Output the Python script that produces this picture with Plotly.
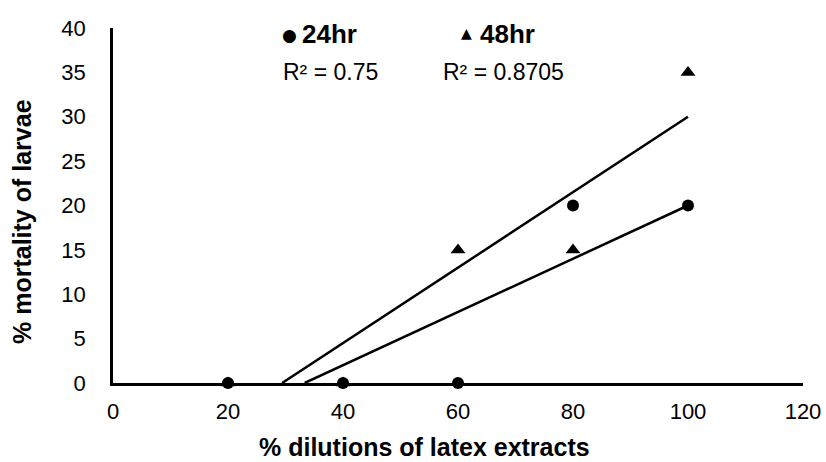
import numpy as np
import plotly.graph_objects as go

dilutions = [20, 40, 60, 80, 100]
mort_24hr = [0, 0, 0, 20, 20]
mort_48hr = [0, 0, 15, 15, 35]
series_names = ["24hr", "48hr"]
x_ticks = [0, 20, 40, 60, 80, 100, 120]
y_ticks = [0, 5, 10, 15, 20, 25, 30, 35, 40]
x_title = "% dilutions of latex extracts"
y_title = "% mortality of larvae"

FONT = "Liberation Sans, Arial, sans-serif"
W, H = 826, 462
L, R, T, B = 113, 23, 28, 79
PW, PH = W - L - R, H - T - B

def px(x):  # screen pixel x -> paper
    return (x - L) / PW

def py(y):  # screen pixel y -> paper
    return (H - B - y) / PH

fig = go.Figure()

def trend(x, y):
    x = np.array(x, float); y = np.array(y, float)
    m, b = np.polyfit(x, y, 1)
    pred = m * x + b
    r2 = 1 - ((y - pred) ** 2).sum() / ((y - y.mean()) ** 2).sum()
    x0 = max(x.min(), -b / m)
    xs = [x0, x.max()]
    ys = [m * v + b for v in xs]
    return xs, ys, r2

r2s = []
for ys_data in (mort_24hr, mort_48hr):
    tx, ty, r2 = trend(dilutions, ys_data)
    r2s.append(r2)
    fig.add_trace(go.Scatter(x=tx, y=ty, mode="lines",
                             line=dict(color="black", width=2.5), showlegend=False,
                             hoverinfo="skip"))

fig.add_trace(go.Scatter(x=dilutions, y=mort_24hr, mode="markers", name=series_names[0],
                         marker=dict(symbol="circle", size=12, color="black"),
                         cliponaxis=False, showlegend=False))
fig.add_trace(go.Scatter(x=dilutions, y=mort_48hr, mode="markers", name=series_names[1],
                         marker=dict(symbol="triangle-up", size=13, color="black"),
                         cliponaxis=False, showlegend=False))

leg_font = dict(family=FONT, size=26, color="black")
fig.add_annotation(xref="paper", yref="paper", x=px(289), y=py(35), text="●",
                   showarrow=False, xanchor="center", yanchor="middle",
                   font=dict(family="DejaVu Sans", size=17, color="black"))
fig.add_annotation(xref="paper", yref="paper", x=px(300), y=py(34),
                   text=f"<b>{series_names[0]}</b>", showarrow=False, xanchor="left",
                   yanchor="middle", font=leg_font)
fig.add_annotation(xref="paper", yref="paper", x=px(466), y=py(33), text="▲",
                   showarrow=False, xanchor="center", yanchor="middle",
                   font=dict(family="DejaVu Sans", size=14, color="black"))
fig.add_annotation(xref="paper", yref="paper", x=px(478), y=py(34),
                   text=f"<b>{series_names[1]}</b>", showarrow=False, xanchor="left",
                   yanchor="middle", font=leg_font)
r2_font = dict(family=FONT, size=23, color="black")
fig.add_annotation(xref="paper", yref="paper", x=px(281), y=py(72),
                   text=f"R² = {r2s[0]:.4g}", showarrow=False, xanchor="left", yanchor="middle",
                   font=r2_font)
fig.add_annotation(xref="paper", yref="paper", x=px(441), y=py(72),
                   text=f"R² = {r2s[1]:.4g}", showarrow=False, xanchor="left", yanchor="middle",
                   font=r2_font)

# axis titles
fig.add_annotation(xref="paper", yref="paper", x=px(424), y=py(447),
                   text=f"<b>{x_title}</b>", showarrow=False, xanchor="center",
                   yanchor="middle", font=dict(family=FONT, size=25, color="black"))
fig.add_annotation(xref="paper", yref="paper", x=px(22), y=py(222),
                   text=f"<b>{y_title}</b>", showarrow=False, xanchor="center",
                   yanchor="middle", textangle=-90,
                   font=dict(family=FONT, size=25, color="black"))

fig.update_layout(
    width=W, height=H,
    margin=dict(l=L, r=R, t=T, b=B),
    plot_bgcolor="white", paper_bgcolor="white",
    font=dict(family=FONT, color="black"),
    xaxis=dict(range=[0, 120], tickvals=x_ticks, showgrid=False, zeroline=False,
               showline=True, linecolor="black", linewidth=2.5, ticks="",
               automargin=False,
               tickfont=dict(size=22, family=FONT), ticklabelstandoff=7),
    yaxis=dict(range=[0, 40], tickvals=y_ticks, showgrid=False, zeroline=False,
               showline=True, linecolor="black", linewidth=2.5, ticks="",
               automargin=False,
               tickfont=dict(size=22, family=FONT), ticklabelstandoff=20),
)

fig.write_html("out.html", config={"displayModeBar": False},
               post_script="document.body.style.margin='0';document.body.style.overflow='hidden';")
